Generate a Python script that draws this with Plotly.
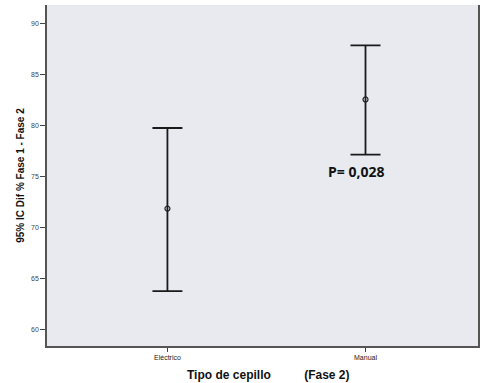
import plotly.graph_objects as go

categories = ["Eléctrico", "Manual"]
means = [71.9, 82.6]
upper = [79.8, 87.9]
lower = [63.8, 77.2]
y_ticks = [60, 65, 70, 75, 80, 85, 90]

err_plus = [u - m for u, m in zip(upper, means)]
err_minus = [m - l for m, l in zip(means, lower)]

fig = go.Figure()
fig.add_trace(go.Scatter(
    x=[0, 1], y=means, mode="markers",
    marker=dict(symbol="circle-open", size=5, color="#222", line=dict(width=1.2, color="#222")),
    error_y=dict(type="data", symmetric=False, array=err_plus, arrayminus=err_minus,
                 color="#1a1a1a", thickness=1.8, width=15),
    showlegend=False, hoverinfo="skip",
))

fig.add_annotation(x=0.95, y=75.5, xref="x", yref="y", text="<b>P= 0,028</b>",
                   showarrow=False, font=dict(family="Open Sans", size=14, color="#111"))
fig.add_annotation(x=0.513, y=-0.085, xref="paper", yref="paper", yanchor="middle",
                   text="<b>Tipo de cepillo          (Fase 2)</b>", showarrow=False,
                   font=dict(family="Liberation Sans", size=12, color="#111"))

fig.update_layout(
    width=480, height=383,
    margin=dict(l=47, r=0, t=5, b=37),
    paper_bgcolor="white", plot_bgcolor="#e8eaf0",
    font=dict(family="Liberation Sans", color="#333"),
)
fig.update_xaxes(
    range=[-0.608, 1.568], tickvals=[0, 1], ticktext=categories,
    ticks="outside", ticklen=4, tickcolor="#444", tickfont=dict(size=7, color="#222"),
    showgrid=False, zeroline=False, showline=True, linecolor="#555", linewidth=1.5,
    mirror=False,
)
fig.update_yaxes(
    range=[58.43, 91.86], tickvals=y_ticks, ticks="outside", ticklen=5, tickcolor="#444",
    tickfont=dict(size=7, color="#444"), showgrid=False, zeroline=False,
    showline=True, linecolor="#555", linewidth=1.5, mirror=True,
    title=dict(text="<b>95% IC Dif % Fase 1 - Fase 2</b>", font=dict(size=10, color="#111"), standoff=5),
)
fig.write_html("out.html", config={"displayModeBar": False},
               post_script="document.body.style.margin='0';document.body.style.overflow='hidden';")
